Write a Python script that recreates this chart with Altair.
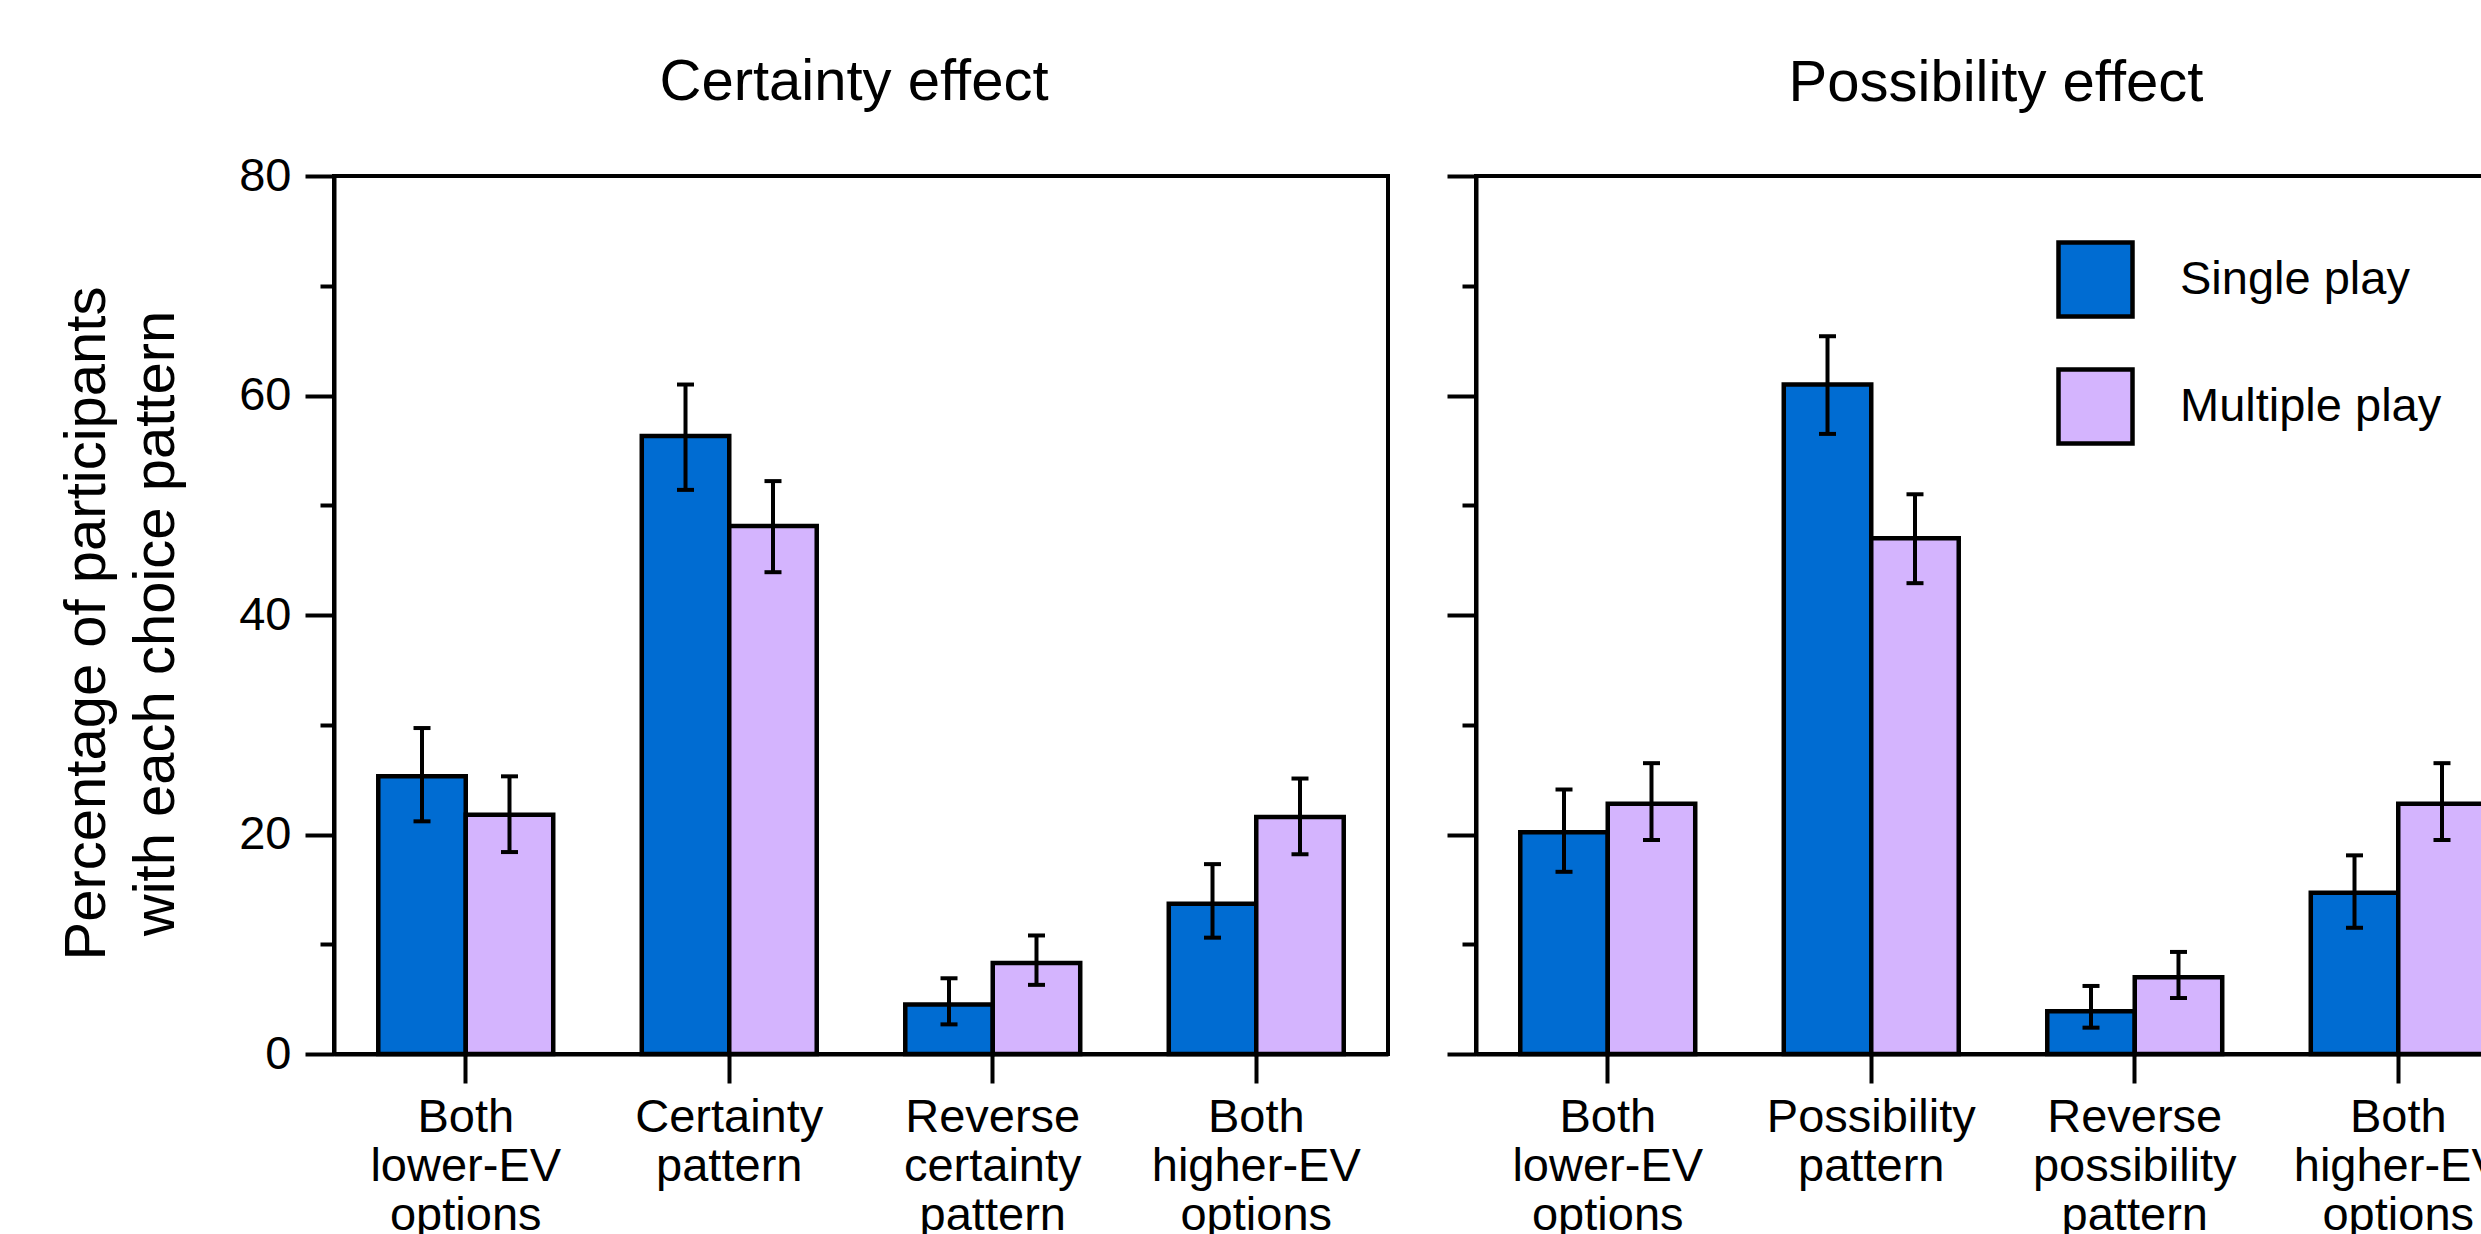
import altair as alt
import pandas as pd

FONT = "Liberation Sans"

PLAYS = ["Single play", "Multiple play"]
PLAY_COLORS = ["#006cd2", "#d4b4fe"]

# Certainty-effect panel
CERTAINTY_PATTERNS = [
    "Both\nlower-EV\noptions",
    "Certainty\npattern",
    "Reverse\ncertainty\npattern",
    "Both\nhigher-EV\noptions",
]
CERTAINTY_SINGLE = [25.3, 56.3, 4.5, 13.7]
CERTAINTY_SINGLE_LO = [21.2, 51.4, 2.7, 10.6]
CERTAINTY_SINGLE_HI = [29.7, 61.0, 6.9, 17.3]
CERTAINTY_MULTIPLE = [21.8, 48.1, 8.3, 21.6]
CERTAINTY_MULTIPLE_LO = [18.4, 43.9, 6.3, 18.2]
CERTAINTY_MULTIPLE_HI = [25.3, 52.2, 10.8, 25.1]

# Possibility-effect panel
POSSIBILITY_PATTERNS = [
    "Both\nlower-EV\noptions",
    "Possibility\npattern",
    "Reverse\npossibility\npattern",
    "Both\nhigher-EV\noptions",
]
POSSIBILITY_SINGLE = [20.2, 61.0, 3.9, 14.7]
POSSIBILITY_SINGLE_LO = [16.6, 56.5, 2.4, 11.5]
POSSIBILITY_SINGLE_HI = [24.1, 65.4, 6.2, 18.1]
POSSIBILITY_MULTIPLE = [22.8, 47.0, 7.0, 22.8]
POSSIBILITY_MULTIPLE_LO = [19.5, 42.9, 5.1, 19.5]
POSSIBILITY_MULTIPLE_HI = [26.5, 51.0, 9.3, 26.5]

Y_MAJOR = [0, 20, 40, 60, 80]
Y_MINOR = [10, 30, 50, 70]
Y_TITLE = ["Percentage of participants", "with each choice pattern"]

# Fixed canvas: the figure is framed to this size and anything beyond is cropped
CANVAS_W, CANVAS_H = 2481, 1234
ORIGIN_X, ORIGIN_Y = 334, 176


def make_frame(patterns, single, s_lo, s_hi, multiple, m_lo, m_hi):
    rows = []
    for i, p in enumerate(patterns):
        rows.append(dict(pattern=p, play=PLAYS[0], value=single[i], lo=s_lo[i], hi=s_hi[i]))
        rows.append(dict(pattern=p, play=PLAYS[1], value=multiple[i], lo=m_lo[i], hi=m_hi[i]))
    return pd.DataFrame(rows)


def panel(df, patterns, title, show_y_labels, title_dy):
    x = alt.X(
        "pattern:N",
        sort=patterns,
        title=None,
        scale=alt.Scale(paddingInner=0.336, paddingOuter=0.168),
        axis=alt.Axis(
            labelExpr="split(datum.label, '\\n')",
            labelAngle=0,
            labelFontSize=47,
            labelLineHeight=49,
            labelPadding=11,
            labelLimit=0,
            labelColor="black",
            labelBaseline="top",
            tickSize=29,
            tickWidth=4,
            tickColor="black",
            domainColor="black",
            domainWidth=4,
            labelFont=FONT,
        ),
    )
    xo = alt.XOffset("play:N", sort=PLAYS, scale=alt.Scale(paddingInner=0, paddingOuter=0))
    yscale = alt.Scale(domain=[0, 80], nice=False)

    major_axis = alt.Axis(
        values=Y_MAJOR,
        orient="left",
        tickSize=29,
        tickWidth=4,
        tickColor="black",
        domainColor="black",
        domainWidth=4,
        labels=show_y_labels,
        labelFontSize=47,
        labelPadding=14,
        labelColor="black",
        labelFont=FONT,
        grid=False,
        **(
            dict(
                title=Y_TITLE,
                titleFontSize=58,
                titleFontWeight="normal",
                titleFont=FONT,
                titleColor="black",
                titleLineHeight=69,
                titleAngle=270,
                titleAlign="center",
                titleBaseline="alphabetic",
                titleX=-230,
                titleY=447,
            )
            if show_y_labels
            else dict(title=None)
        ),
    )
    minor_axis = alt.Axis(
        values=Y_MINOR,
        orient="left",
        tickSize=14,
        tickWidth=4,
        tickColor="black",
        domain=False,
        labels=False,
        grid=False,
        title=None,
    )

    base = alt.Chart(df)
    bars = base.mark_bar(stroke="black", strokeWidth=4.5).encode(
        x=x,
        xOffset=xo,
        y=alt.Y("value:Q", scale=yscale, axis=major_axis),
        color=alt.Color(
            "play:N",
            sort=PLAYS,
            scale=alt.Scale(domain=PLAYS, range=PLAY_COLORS),
            legend=alt.Legend(
                title=None,
                orient="none",
                legendX=1722,
                legendY=64,
                symbolType="square",
                symbolSize=5476,
                symbolStrokeColor="black",
                symbolStrokeWidth=4.5,
                symbolOpacity=1,
                labelFontSize=47,
                labelFont=FONT,
                labelColor="black",
                labelLimit=0,
                labelOffset=45,
                rowPadding=34,
            ),
        ),
    )
    whiskers = base.mark_rule(color="black", strokeWidth=4).encode(
        x=x,
        xOffset=xo,
        y=alt.Y("lo:Q", scale=yscale, axis=minor_axis),
        y2="hi:Q",
    )
    cap_lo = base.mark_tick(color="black", size=17, thickness=4, opacity=1).encode(
        x=x, xOffset=xo, y=alt.Y("lo:Q", scale=yscale, axis=None)
    )
    cap_hi = base.mark_tick(color="black", size=17, thickness=4, opacity=1).encode(
        x=x, xOffset=xo, y=alt.Y("hi:Q", scale=yscale, axis=None)
    )

    return (
        alt.layer(bars, whiskers, cap_lo, cap_hi)
        .resolve_axis(y="independent")
        .properties(
            width=1054,
            height=878,
            view=alt.ViewBackground(stroke="black", strokeWidth=4, strokeOpacity=1),
            title=alt.Title(
                title,
                fontSize=58,
                fontWeight="normal",
                font=FONT,
                color="black",
                baseline="alphabetic",
                frame="group",
                offset=75,
                dx=-7,
                dy=title_dy,
            ),
        )
    )


certainty_df = make_frame(
    CERTAINTY_PATTERNS, CERTAINTY_SINGLE, CERTAINTY_SINGLE_LO, CERTAINTY_SINGLE_HI,
    CERTAINTY_MULTIPLE, CERTAINTY_MULTIPLE_LO, CERTAINTY_MULTIPLE_HI,
)
possibility_df = make_frame(
    POSSIBILITY_PATTERNS, POSSIBILITY_SINGLE, POSSIBILITY_SINGLE_LO, POSSIBILITY_SINGLE_HI,
    POSSIBILITY_MULTIPLE, POSSIBILITY_MULTIPLE_LO, POSSIBILITY_MULTIPLE_HI,
)

left = panel(certainty_df, CERTAINTY_PATTERNS, "Certainty effect", True, 81)
right = panel(possibility_df, POSSIBILITY_PATTERNS, "Possibility effect", False, 60)

chart = (
    alt.hconcat(left, right, spacing=88, bounds="flush")
    .properties(
        autosize=alt.AutoSizeParams(type="none"),
        padding={
            "left": ORIGIN_X,
            "top": ORIGIN_Y,
            "right": CANVAS_W - ORIGIN_X,
            "bottom": CANVAS_H - ORIGIN_Y,
        },
        background="white",
    )
    .configure_view(stroke="black", strokeWidth=4, strokeOpacity=1)
    .configure(font=FONT)
)

chart.save("out.html", embed_options={"renderer": "svg", "actions": False})
